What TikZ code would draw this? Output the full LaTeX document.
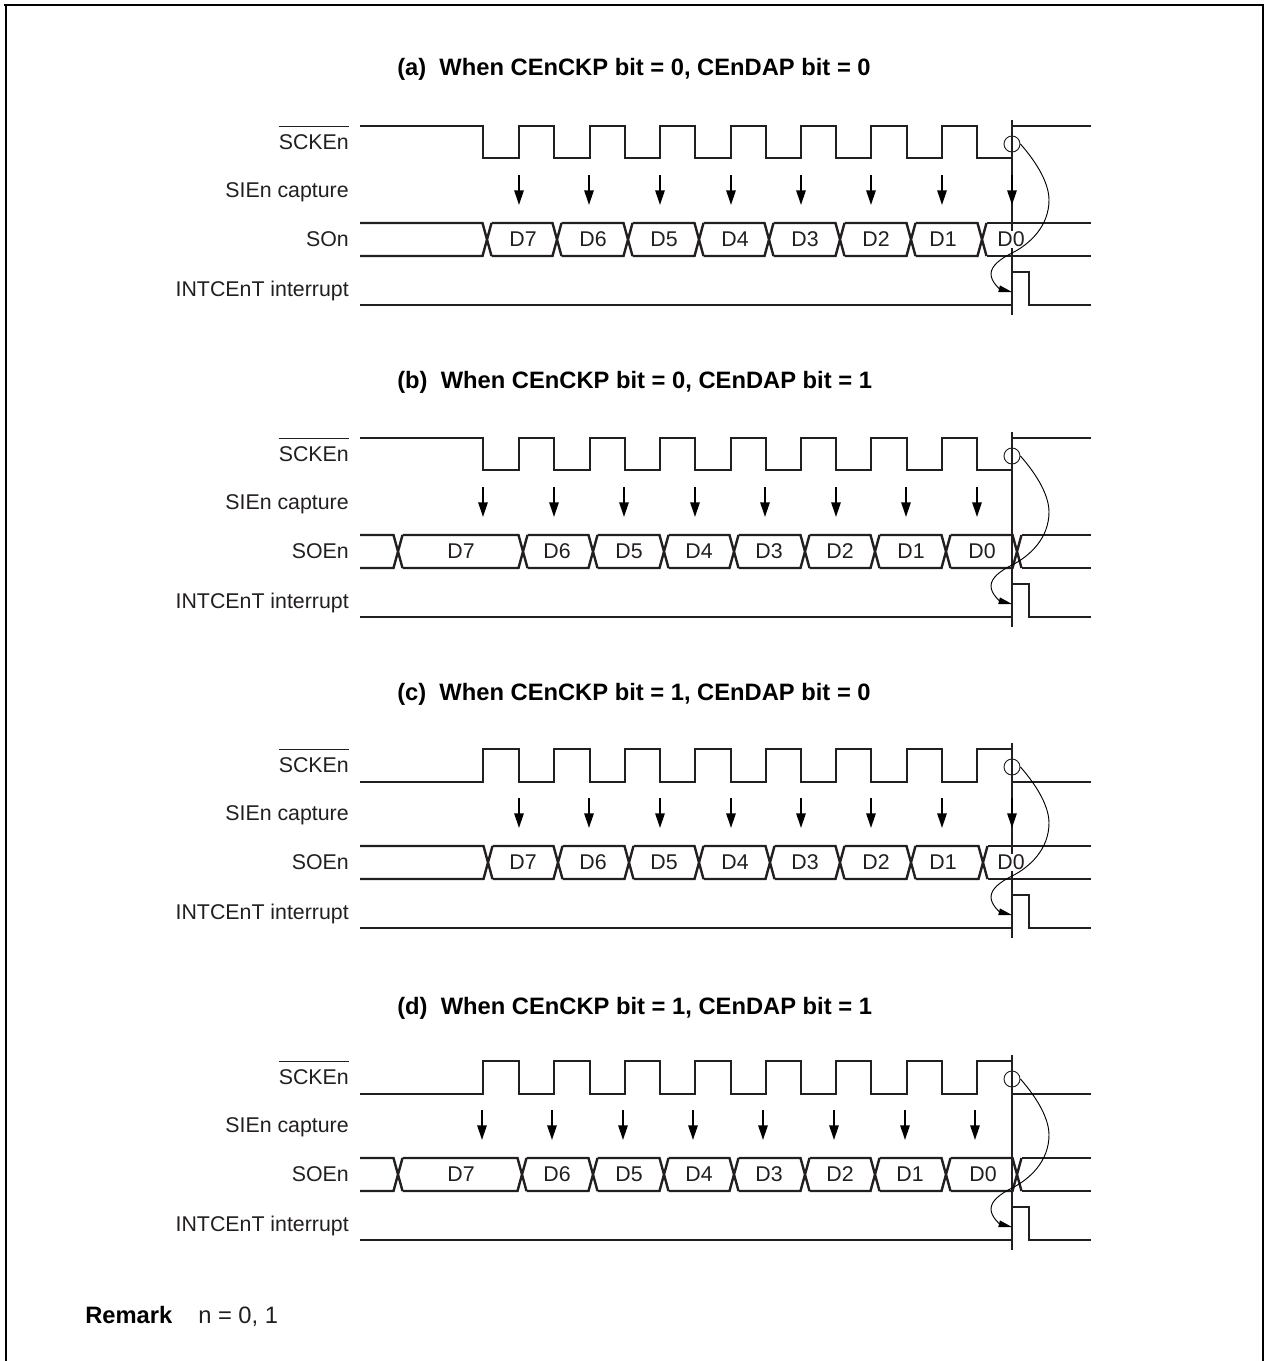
\documentclass[tikz,border=0pt]{standalone}
\usepackage{fontspec}
\setmainfont{Liberation Sans}
\usepackage{tikz}
\usetikzlibrary{arrows.meta, positioning}
\definecolor{inkgray}{HTML}{231F20}
\newcommand{\barred}[1]{\ensuremath{\overline{\mbox{\rule{0pt}{1.02em}#1}}}}
\newcommand{\clockwave}[2]{%
  \draw[wave] (360,#1) -| (483,#2) -| (519,#1) -| (554,#2) -| (590,#1) -| (625,#2) -| (660,#1)
    -| (695,#2) -| (731,#1) -| (766,#2) -| (801,#1) -| (836,#2) -| (871,#1) -| (907,#2) -| (942,#1)
    -| (977,#2) -| (1012,#1) -- (1091,#1);}
\newcommand{\datawave}[2]{%
  \foreach \x [remember=\x as \px (initially 355.5)] in {#1} {
    \draw[wave] (\px+4.5,97) -- (\x-4.5,97) -- (\x+4.5,130) (\px+4.5,130) -- (\x-4.5,130) -- (\x+4.5,97);
  }
  \draw[wave] (#2+4.5,97) -- (1091,97) (#2+4.5,130) -- (1091,130);}
\newcommand{\panelrows}[2]{%
  \node[siglabel] (#1-sck) at (349,23.5) {\barred{SCKEn}};
  \node[siglabel] (#1-sie) at (349,71) {SIEn capture};
  \node[siglabel] (#1-so)  at (349,120) {#2};
  \node[siglabel] (#1-int) at (349,170.5) {INTCEnT interrupt};
  \draw[guide] (1012,-6) -- (1012,189);
  \draw[wave] (360,179) -- (1012,179) -- (1012,146) -| (1029,179) -- (1091,179);}
\newcommand{\panelcurve}[1]{%
  \node[edgering] (#1-edge) at (1012,18) {};
  \coordinate (#1-tip) at (1012,166);
  \draw[link] (#1-edge.east) .. controls (1038,38) and (1049,58) .. (1049,74)
    .. controls (1049,100) and (1030,118) .. (1012,127)
    .. controls (1000,133) and (991,140) .. (991,148)
    .. controls (991,156) and (1000,163) .. (#1-tip);}
\begin{document}
\begin{tikzpicture}[
    x=0.75pt, y=-0.75pt,
    wave/.style={draw=inkgray, line width=1.8pt, line join=miter},
    guide/.style={draw=inkgray, line width=1pt},
    capt/.style={-{Triangle[length=11pt, width=7pt]}, draw=black, line width=1.4pt},
    link/.style={-{Triangle[length=10pt, width=5pt]}, draw=black, line width=0.7pt},
    edgering/.style={circle, draw=inkgray, line width=0.7pt, minimum size=12pt, inner sep=0pt},
    siglabel/.style={anchor=base east, text=inkgray, inner sep=0pt, font=\fontsize{16}{18}\selectfont},
    bitlabel/.style={fill=white, text=inkgray, inner sep=0.6pt, font=\fontsize{16}{18}\selectfont},
    paneltitle/.style={anchor=base west, inner sep=0pt, font=\fontsize{17.8}{20}\selectfont\bfseries},
    frameline/.style={draw=black, line width=1.75pt},
]
  \useasboundingbox (0,0) rectangle (1264,1361);
  \draw[frameline] (6,1361) -- (6,5) (4,5) -- (1264,5) (1263.5,5) -- (1263.5,1361);

  \node[paneltitle] (title-a) at (397,75) {(a)\ \ When CEnCKP bit = 0, CEnDAP bit = 0};
  \begin{scope}[shift={(0,126)}]
    \panelrows{a}{SOn}
    \clockwave{0}{32}
    \foreach \x in {519,589,660,731,801,871,942,1012} \draw[capt] (\x,49) -- (\x,79);
    \datawave{487,557,628,699,769,840,911,982}{982}
    \foreach \bit/\x in {D7/523,D6/593,D5/664,D4/735,D3/805,D2/876,D1/943,D0/1011}
      \node[bitlabel] (a-\bit) at (\x,113.5) {\bit};
    \panelcurve{a}
  \end{scope}

  \node[paneltitle] (title-b) at (397,388) {(b)\ \ When CEnCKP bit = 0, CEnDAP bit = 1};
  \begin{scope}[shift={(0,438)}]
    \panelrows{b}{SOEn}
    \clockwave{0}{32}
    \foreach \x in {483,554,624,695,765,836,906,977} \draw[capt] (\x,49) -- (\x,79);
    \datawave{398,523,593,664,734,805,875,946,1017}{1017}
    \foreach \bit/\x in {D7/461,D6/557,D5/629,D4/699,D3/769,D2/840,D1/911,D0/982}
      \node[bitlabel] (b-\bit) at (\x,113.5) {\bit};
    \panelcurve{b}
  \end{scope}

  \node[paneltitle] (title-c) at (397,700) {(c)\ \ When CEnCKP bit = 1, CEnDAP bit = 0};
  \begin{scope}[shift={(0,749)}]
    \panelrows{c}{SOEn}
    \clockwave{33}{0}
    \foreach \x in {519,589,660,731,801,871,942,1012} \draw[capt] (\x,49) -- (\x,79);
    \datawave{488,558,629,699,770,840,911,983}{983}
    \foreach \bit/\x in {D7/523,D6/593,D5/664,D4/735,D3/805,D2/876,D1/943,D0/1011}
      \node[bitlabel] (c-\bit) at (\x,113.5) {\bit};
    \panelcurve{c}
  \end{scope}

  \node[paneltitle] (title-d) at (397,1014) {(d)\ \ When CEnCKP bit = 1, CEnDAP bit = 1};
  \begin{scope}[shift={(0,1061)}]
    \panelrows{d}{SOEn}
    \clockwave{33}{0}
    \foreach \x in {482,552,623,693,763,834,905,975} \draw[capt] (\x,49) -- (\x,79);
    \datawave{398,522,593,664,734,805,875,946,1017}{1017}
    \foreach \bit/\x in {D7/461,D6/557,D5/629,D4/699,D3/769,D2/840,D1/910,D0/983}
      \node[bitlabel] (d-\bit) at (\x,113.5) {\bit};
    \panelcurve{d}
  \end{scope}

  \node[paneltitle] (remark) at (85,1323) {Remark};
  \node[anchor=base west, inner sep=0pt, text=inkgray, font=\fontsize{17.8}{20}\selectfont] (remark-n) at (198,1323) {n = 0, 1};
\end{tikzpicture}
\end{document}
